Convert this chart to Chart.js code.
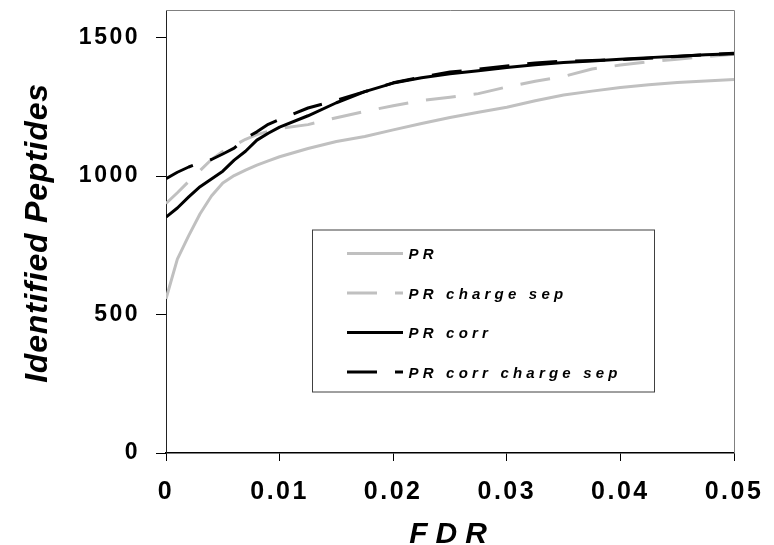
<!DOCTYPE html>
<html lang="en">
<head>
<meta charset="UTF-8" />
<title>Identified Peptides vs FDR</title>
<script src="https://cdn.jsdelivr.net/npm/chart.js"></script>
<style>
  html, body { margin: 0; padding: 0; background: #fff; }
</style>
</head>
<body>
<canvas id="pepChart" width="774" height="545"></canvas>
<script>
  // FDR values (x) and identified peptide counts for each method
  const fdr = [0, 0.001, 0.002, 0.003, 0.004, 0.005, 0.006, 0.007, 0.008, 0.009, 0.010,
               0.0125, 0.015, 0.0175, 0.02, 0.0225, 0.025, 0.0275, 0.03, 0.0325, 0.035,
               0.0375, 0.04, 0.0425, 0.045, 0.0475, 0.05];
  const prPeptides = [557, 700, 785, 864, 928, 975, 1002, 1022, 1040, 1055, 1070,
                      1100, 1125, 1143, 1167, 1190, 1212, 1231, 1249, 1272, 1293,
                      1307, 1320, 1330, 1338, 1344, 1349];
  const prChargeSep = [901, 940, 981, 1020, 1060, 1089, 1111, 1133, 1150, 1162, 1172,
                       1186, 1211, 1234, 1254, 1273, 1285, 1298, 1322, 1343, 1360,
                       1387, 1401, 1413, 1422, 1432, 1440];
  const prCorr = [852, 885, 925, 962, 990, 1018, 1058, 1090, 1130, 1155, 1177,
                  1218, 1265, 1305, 1336, 1355, 1370, 1381, 1392, 1402, 1410,
                  1416, 1422, 1428, 1433, 1438, 1442];
  const prCorrChargeSep = [991, 1014, 1033, 1048, 1060, 1080, 1101, 1137, 1160, 1187, 1205,
                           1246, 1274, 1305, 1337, 1358, 1376, 1386, 1398, 1409, 1415,
                           1418, 1421, 1426, 1432, 1438, 1444];
  const seriesNames = ['PR', 'PR charge sep', 'PR corr', 'PR corr charge sep'];
  const xTicks = [0, 0.01, 0.02, 0.03, 0.04, 0.05];
  const yTicks = [0, 500, 1000, 1500];

  const GRAY = '#c0c0c0';
  const FONT = '"Liberation Sans", Arial, sans-serif';
  const DASH = [30, 18];

  const toPoints = arr => fdr.map((x, i) => ({ x: x, y: arr[i] }));

  function lineSet(label, values, color, dash, order) {
    return {
      label: label,
      data: toPoints(values),
      borderColor: color,
      borderWidth: 3,
      borderDash: dash,
      borderCapStyle: 'butt',
      borderJoinStyle: 'round',
      pointRadius: 0,
      fill: false,
      tension: 0,
      order: order
    };
  }

  // titles, plot frame and the boxed legend inside the plot
  const decor = {
    id: 'decor',
    beforeDraw(chart) {
      chart.ctx.letterSpacing = '2.5px';   // tick labels
    },
    beforeDatasetsDraw(chart) {
      const ctx = chart.ctx, a = chart.chartArea;
      ctx.letterSpacing = '0px';
      ctx.save();
      ctx.strokeStyle = '#808080';
      ctx.lineWidth = 1;
      ctx.beginPath();
      ctx.moveTo(a.left, a.top + 0.5);
      ctx.lineTo(a.right + 0.5, a.top + 0.5);
      ctx.lineTo(a.right + 0.5, a.bottom);
      ctx.stroke();
      ctx.restore();
    },
    afterDatasetsDraw(chart) {
      const ctx = chart.ctx, a = chart.chartArea;
      const bx = a.left + 146, by = a.top + 219.5, bw = 342, bh = 162;
      ctx.save();
      ctx.fillStyle = '#fff';
      ctx.fillRect(bx, by, bw, bh);
      ctx.strokeStyle = '#404040';
      ctx.lineWidth = 1;
      ctx.strokeRect(bx + 0.5, by + 0.5, bw, bh);
      chart.data.datasets.forEach((ds, i) => {
        const cy = by + 24 + i * 39.5;
        ctx.strokeStyle = ds.borderColor;
        ctx.lineWidth = ds.borderWidth;
        ctx.lineCap = 'butt';
        ctx.setLineDash(ds.borderDash || []);
        ctx.beginPath();
        ctx.moveTo(bx + 35, cy);
        ctx.lineTo(bx + 91, cy);
        ctx.stroke();
        ctx.setLineDash([]);
        ctx.fillStyle = '#000';
        ctx.font = 'italic bold 15px ' + FONT;
        ctx.letterSpacing = '4.2px';
        ctx.textAlign = 'left';
        ctx.textBaseline = 'alphabetic';
        ctx.fillText(ds.label, bx + 96.5, cy + 5.5);
      });
      ctx.restore();
    },
    afterDraw(chart) {
      const ctx = chart.ctx, a = chart.chartArea;
      ctx.save();
      ctx.fillStyle = '#000';
      ctx.textBaseline = 'alphabetic';
      ctx.textAlign = 'center';
      // y title
      ctx.save();
      ctx.translate(47, (a.top + a.bottom) / 2 + 1.5);
      ctx.rotate(-Math.PI / 2);
      ctx.font = 'italic bold 32px ' + FONT;
      ctx.letterSpacing = '0.8px';
      ctx.fillText('Identified Peptides', 0, 0);
      ctx.restore();
      // x title
      ctx.font = 'italic bold 30px ' + FONT;
      ctx.letterSpacing = '8px';
      ctx.fillText('FDR', (a.left + a.right) / 2 + 2, 543);
      ctx.restore();
    }
  };

  const ctx = document.getElementById('pepChart').getContext('2d');
  new Chart(ctx, {
    type: 'line',
    data: {
      datasets: [
        lineSet(seriesNames[0], prPeptides, GRAY, [], 4),
        lineSet(seriesNames[1], prChargeSep, GRAY, DASH, 3),
        lineSet(seriesNames[2], prCorr, '#000', [], 2),
        lineSet(seriesNames[3], prCorrChargeSep, '#000', DASH, 1)
      ]
    },
    options: {
      responsive: false,
      animation: false,
      layout: { padding: { top: 10, right: 40, left: 0, bottom: 0 } },
      plugins: {
        legend: { display: false },
        tooltip: { enabled: false }
      },
      scales: {
        x: {
          type: 'linear',
          min: xTicks[0],
          max: xTicks[xTicks.length - 1],
          afterBuildTicks: s => { s.ticks = xTicks.map(v => ({ value: v })); },
          ticks: {
            color: '#000',
            font: { family: FONT, size: 25, weight: 'bold' },
            padding: 16,
            maxRotation: 0,
            autoSkip: false,
            callback: v => v === 0 ? '0' : v.toFixed(2)
          },
          grid: { drawOnChartArea: false, tickLength: 8, tickColor: '#000', tickWidth: 1 },
          border: { color: '#000', width: 1.5 },
          afterFit: s => { s.height = 92; s.paddingLeft = 0; s.paddingRight = 0; }
        },
        y: {
          min: 0,
          max: 1600,
          afterBuildTicks: s => { s.ticks = yTicks.map(v => ({ value: v })); },
          ticks: {
            color: '#000',
            font: { family: FONT, size: 23, weight: 'bold' },
            padding: 16,
            callback: v => String(v)
          },
          grid: { drawOnChartArea: false, tickLength: 10, tickColor: '#000', tickWidth: 1 },
          border: { color: '#222', width: 1 },
          afterFit: s => { s.width = 166; s.paddingTop = 0; s.paddingBottom = 0; }
        }
      }
    },
    plugins: [decor]
  });
</script>
</body>
</html>
